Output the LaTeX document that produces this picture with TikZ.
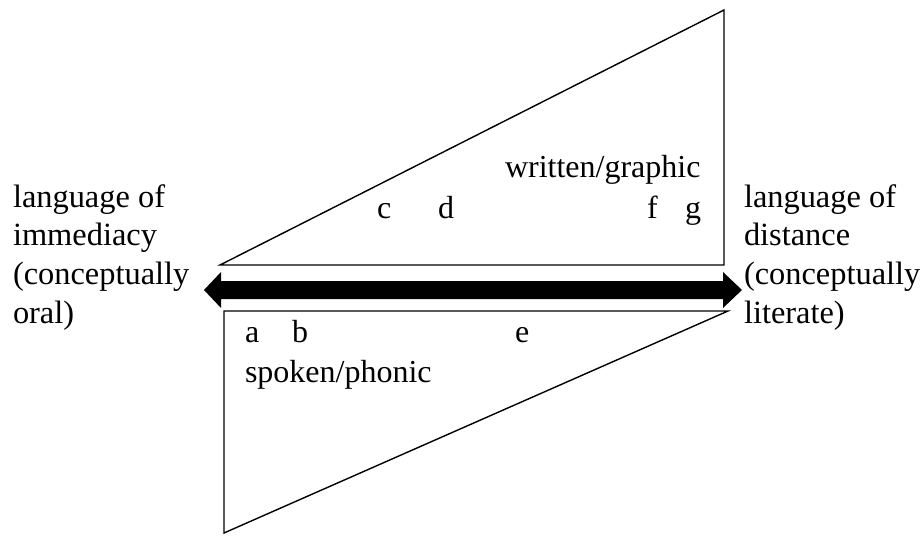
\documentclass[tikz,border=0pt]{standalone}
\usepackage{fontspec}
\setmainfont{Liberation Serif}
\tikzset{
  tri/.style={draw=black, line width=1.4pt, line join=miter},
  lbl/.style={inner sep=0pt, outer sep=0pt, anchor=base west, font=\fontsize{32}{38.6}\selectfont},
  sidelbl/.style={lbl, align=left, font=\fontsize{32.4}{38.6}\selectfont},
  bigarrow/.style={fill=black, draw=none}
}
\begin{document}
\begin{tikzpicture}[x=1pt, y=-1pt]
\useasboundingbox (0,0) rectangle (922,536);
% upper triangle (written/graphic)
\coordinate (uL) at (220,265);
\coordinate (uR) at (724,265);
\coordinate (uT) at (724,10);
\draw[tri] (uL) -- (uR) -- (uT) -- cycle;
% lower triangle (spoken/phonic)
\coordinate (lTL) at (224,311);
\coordinate (lTR) at (728,311);
\coordinate (lB) at (224,533);
\draw[tri] (lTL) -- (lTR) -- (lB) -- cycle;
% double arrow
\fill[bigarrow] (204,290) -- (221,272) -- (221,281) -- (723,281) -- (723,272)
  -- (742,290) -- (723,308) -- (723,299) -- (221,299) -- (221,308) -- cycle;
% side labels (base anchor = baseline of last line)
\node[sidelbl] (left) at (13,323) {language of\\immediacy\\(conceptually\\oral)};
\node[sidelbl] (right) at (744,323) {language of\\distance\\(conceptually\\literate)};
% inner labels
\node[lbl] (wg) at (505,177) {written/graphic};
\node[lbl] (c) at (377,218) {c};
\node[lbl] (d) at (438,218) {d};
\node[lbl] (f) at (647,218) {f};
\node[lbl] (g) at (685,218) {g};
\node[lbl] (a) at (245,342) {a};
\node[lbl] (b) at (292,342) {b};
\node[lbl] (e) at (515,342) {e};
\node[lbl] (sp) at (245,382) {spoken/phonic};
\end{tikzpicture}
\end{document}
